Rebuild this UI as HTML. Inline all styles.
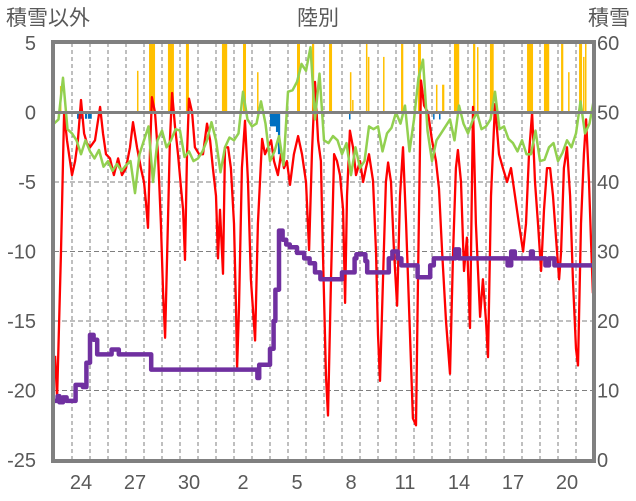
<!DOCTYPE html>
<html><head><meta charset="utf-8"><style>
html,body{margin:0;padding:0;background:#fff;}
svg{display:block;font-family:"Liberation Sans","Noto Sans CJK JP",sans-serif;}
</style></head><body>
<svg id="chart" width="636" height="501" viewBox="0 0 636 501" xmlns="http://www.w3.org/2000/svg">
<text x="6" y="25" font-size="21" fill="#595959">積雪以外</text>
<text x="318" y="25" font-size="21" fill="#595959" text-anchor="middle">陸別</text>
<text x="588" y="25" font-size="21" fill="#595959">積雪</text>
<g id="grid"></g>
<g id="bars"></g>
<g id="lines"></g>
<g id="frame"></g>
<g id="axes"></g>
</svg>
<script>
// ---- data ----
const leftTicks = [5, 0, -5, -10, -15, -20, -25];
const rightTicks = [60, 50, 40, 30, 20, 10, 0];
const xTickDays = [1, 4, 7, 10, 13, 16, 19, 22, 25, 28];
const xTickLabels = ["24", "27", "30", "2", "5", "8", "11", "14", "17", "20"];

const redDay = [0.06,0.17,0.39,0.56,0.72,0.89,1.0,1.17,1.33,1.5,1.67,1.83,2.0,2.28,2.56,2.72,2.89,3.11,3.33,3.56,3.78,4.0,4.22,4.39,4.61,4.83,5.0,5.11,5.22,5.33,5.44,5.61,5.78,5.94,6.06,6.17,6.33,6.44,6.56,6.72,6.89,7.06,7.17,7.28,7.39,7.5,7.67,7.83,8.06,8.28,8.5,8.67,8.83,9.0,9.11,9.22,9.39,9.5,9.67,9.83,10.0,10.11,10.17,10.28,10.44,10.61,10.78,10.94,11.17,11.33,11.56,11.72,11.89,12.06,12.22,12.44,12.61,12.78,12.94,13.11,13.33,13.56,13.78,14.0,14.17,14.33,14.5,14.67,14.83,14.94,15.11,15.22,15.39,15.56,15.72,15.89,16.06,16.17,16.28,16.44,16.61,16.78,17.0,17.17,17.33,17.5,17.72,17.89,18.0,18.11,18.28,18.44,18.56,18.72,18.89,19.06,19.22,19.39,19.56,19.78,19.94,20.11,20.22,20.39,20.56,20.78,21.0,21.22,21.39,21.56,21.78,22.0,22.17,22.33,22.44,22.61,22.78,22.94,23.11,23.28,23.44,23.67,23.83,24.0,24.11,24.28,24.5,24.72,24.94,25.17,25.39,25.61,25.83,26.06,26.22,26.39,26.56,26.72,26.89,27.06,27.22,27.39,27.56,27.72,27.89,28.06,28.17,28.33,28.5,28.67,28.83,29.0,29.11,29.28,29.44,29.56,29.72,29.83,29.94];
const redVal = [-17.5,-20.5,-10,0,-2,-3.5,-4.5,-3.5,-2,0.9,-1.5,-2.2,-2.5,-2,0.4,-1.5,-3,-3.3,-4.5,-3.3,-4.5,-4,-2.5,-0.7,-2.5,-4,-5,-6.5,-8.3,-3,1.1,0,-3,-8,-13,-16.2,-8,-2,1.4,-1,-3,-5.5,-7,-10.6,-3,1.0,0,-2.5,-3,-3,-0.8,-2,-4,-6,-10.5,-7,-11.6,-2.5,-2.5,-4,-8,-14,-18.4,-14,-4,-0.6,-5,-12,-16.4,-8,-1.9,-3,-2.5,-2,-3.5,-4.5,-3,-4,-3.5,-5.2,-3,-1.7,-3,-5,-9.9,-3,2.2,-2,-3.5,-10,-19,-21.8,-12,-3,-3.5,-4.5,-7,-13.7,-6,-1.3,-2.5,-4.5,-3.5,-5,-4,-3,-4.9,-10,-16,-19.3,-12,-5,-3.6,-5,-10,-13.9,-6,-2.5,-8,-16,-22,-22.5,-12,2.3,0.5,0,-2,-3.5,-5.5,-10,-15,-18.8,-10,-4,-2.7,-5,-11.4,-9,-15.5,0.4,-8,-14.7,-12,-15,-17.6,-6,0.6,-3,-4,-5,-4,-6,-8,-10,-8,-3,0,-5,-8,-11.4,-7,-4,-4,-6,-9,-12,-10,-4,-2.5,-6,-12,-17,-18.2,-8,-3,-0.5,-5,-9,-13];

const greenStepDays = 0.25;
const greenVal = [-0.8,-0.5,2.5,-1.2,-1.5,-2,-3,-2,-2.8,-3.3,-2.7,-3.9,-3.5,-4.2,-3.7,-4.2,-3.8,-3.5,-5.8,-3,-2,-1,-5,-2,-1.3,-2.5,-2,-1.2,-1.3,-3.2,-2.8,-3.5,-3.3,-2.8,-2,-0.7,-2,-4.3,-2.5,-1.8,-2,-1.5,1.5,-0.5,-1,-0.8,0.8,-0.8,-3.5,-2.8,-1.7,-3.8,1.5,1.6,2.2,3.5,3,4.7,-0.5,2.8,-2,-2.2,-1.7,-2,-3,-2.2,-4.5,-2.5,-4,-3.5,-1,-1.2,-1,-2.8,-1.5,-1.1,0,-0.8,0.5,-2.8,-0.5,2.5,3.8,-1.3,-3.5,-2,-1.5,-1,-0.5,-2,0.5,-0.8,-1.5,-0.6,0,-1.2,-1,-0.5,1.5,-1.2,-1,-1.9,-2.2,-2.8,-2,-3,-3,-1.3,-3.5,-3.4,-2.5,-2.2,-3.5,-2.9,-2,-2.5,-1.5,0.8,-1.5,-0.8,1];

const snowDay = [0,0.2,0.3,0.5,0.7,1.0,1.2,1.6,1.8,2.0,2.2,2.4,3.2,3.6,5.4,11.3,11.4,11.9,12.0,12.2,12.3,12.5,12.7,12.9,13.1,13.5,13.9,14.2,14.5,14.8,15.9,16.0,16.6,16.7,16.8,17.1,17.3,17.4,18.4,18.6,18.8,19.1,19.3,20.2,20.9,21.1,22.3,22.5,25.2,25.4,25.6,26.5,26.6,27.3,27.5,27.8,29.9];
const snowVal = [8.5,9.2,8.3,9,8.5,8.5,10.8,10.5,14,18,17.3,15.2,15.9,15.2,13,11.8,13.7,13.7,16,20,24.5,33,31.7,31,30.6,29.8,29,28.3,27,26,26,27,27,29,29.6,29.6,28.6,27,27,29,30,29,28,26.3,28,29,30.3,29,28,30,29,30,29,28,29,28,28];

const snowfallDay = [0.33,4.61,5.28,6.33,7.33,9.33,10.5,11.28,13.5,14.33,15.28,16.44,16.56,17.33,17.44,18.28,19.28,20.22,21.22,21.56,22.22,23.28,23.5,24.22,26.28,27.22,28.17,28.56,29.17,29.39,29.5];
const snowfallHours = [1,1,8,8,4,7,4,1,4,3,4,1,1,2,1,2,3,4,1,3,7,3,1,5,8,7,3,1,4,1,1];
const snowfallVal = [1.9,3,5,5,5,5,5,2.9,5,5,5,2.9,0.9,5,4,4,5,5,2,2,5,5,4.7,5,5,5,5,2.9,5,4,5];

const iceDay = [1.28,1.72,1.89,12.0,12.33,12.44,16.39,21.06,21.39];
const iceHours = [8,3,5,8,3,3,1,1,1];
const iceVal = [-0.45,-0.45,-0.45,-1,-1.4,-3,-0.5,-0.5,-0.5];

// ---- layout ----
const X0 = 54, DAYW = 18, NDAYS = 30;
const YT = 43, YB = 460;
const NS = "http://www.w3.org/2000/svg";
const xS = d => X0 + d * DAYW;
const yL = v => YB - (v + 25) / 30 * (YB - YT);
const yR = v => YB - v / 60 * (YB - YT);
function mk(tag, attrs, parent) {
  const e = document.createElementNS(NS, tag);
  for (const k in attrs) e.setAttribute(k, attrs[k]);
  parent.appendChild(e);
  return e;
}
const grid = document.getElementById('grid');
const bars = document.getElementById('bars');
const lines = document.getElementById('lines');
const frame = document.getElementById('frame');
const axes = document.getElementById('axes');

// grid
for (let d = 1; d < NDAYS; d++) {
  const l = mk('line', {x1: xS(d), x2: xS(d), y1: YT, y2: YB, stroke: '#7f7f7f', 'stroke-width': 1, 'stroke-dasharray': '4,3'}, grid);
  
  
}
leftTicks.forEach(v => {
  if (v === 5 || v === 0 || v === -25) return;
  const l = mk('line', {x1: X0, x2: xS(NDAYS), y1: yL(v), y2: yL(v), stroke: '#7f7f7f', 'stroke-width': 1, 'stroke-dasharray': '5,3'}, grid);
  
  
});

// snowfall bars
snowfallDay.forEach((d, i) => {
  const w = Math.max(1.5, snowfallHours[i] / 24 * DAYW);
  const r = mk('rect', {x: xS(d), y: yL(snowfallVal[i]), width: w, height: yL(0) - yL(snowfallVal[i]), fill: '#ffc000'}, bars);
  
  
});
iceDay.forEach((d, i) => {
  const w = Math.max(1.5, iceHours[i] / 24 * DAYW);
  const r = mk('rect', {x: xS(d), y: yL(0), width: w, height: yL(iceVal[i]) - yL(0), fill: '#0070c0'}, bars);
  
  
});

// zero line
const z = mk('line', {x1: X0, x2: xS(NDAYS), y1: yL(0), y2: yL(0), stroke: '#808080', 'stroke-width': 3}, frame);



// red line
const redPts = redDay.map((d, i) => xS(d).toFixed(1) + ',' + yL(redVal[i]).toFixed(1)).join(' ');
const red = mk('polyline', {points: redPts, fill: 'none', stroke: '#ff0000', 'stroke-width': 2.3, 'stroke-linejoin': 'round'}, lines);



// green line
const greenPts = greenVal.map((v, i) => xS(i * greenStepDays).toFixed(1) + ',' + yL(v).toFixed(1)).join(' ');
const green = mk('polyline', {points: greenPts, fill: 'none', stroke: '#92d050', 'stroke-width': 2.5, 'stroke-linejoin': 'round'}, lines);



// purple step line
let sp = [];
snowDay.forEach((d, i) => {
  if (i > 0) sp.push(xS(d).toFixed(1) + ',' + yR(snowVal[i - 1]).toFixed(1));
  sp.push(xS(d).toFixed(1) + ',' + yR(snowVal[i]).toFixed(1));
});
const purple = mk('polyline', {points: sp.join(' '), fill: 'none', stroke: '#7030a0', 'stroke-width': 4.5, 'stroke-linejoin': 'round'}, lines);



// frame
const fr = mk('rect', {x: X0 - 1, y: YT - 1, width: xS(NDAYS) - X0 + 1, height: YB - YT + 2, fill: 'none', stroke: '#808080', 'stroke-width': 4}, frame);



// axis labels
leftTicks.forEach(v => {
  const t = mk('text', {x: 36, y: yL(v) + 7, 'font-size': 20, fill: '#595959', 'text-anchor': 'end'}, axes);
  t.textContent = String(v);
  
  
});
rightTicks.forEach(v => {
  const t = mk('text', {x: 597, y: yR(v) + 7, 'font-size': 20, fill: '#595959'}, axes);
  t.textContent = String(v);
  
  
});
xTickDays.forEach((d, i) => {
  const t = mk('text', {x: xS(d + 0.5), y: 489, 'font-size': 20, fill: '#595959', 'text-anchor': 'middle'}, axes);
  t.textContent = xTickLabels[i];
  
  
});
</script>
</body></html>
